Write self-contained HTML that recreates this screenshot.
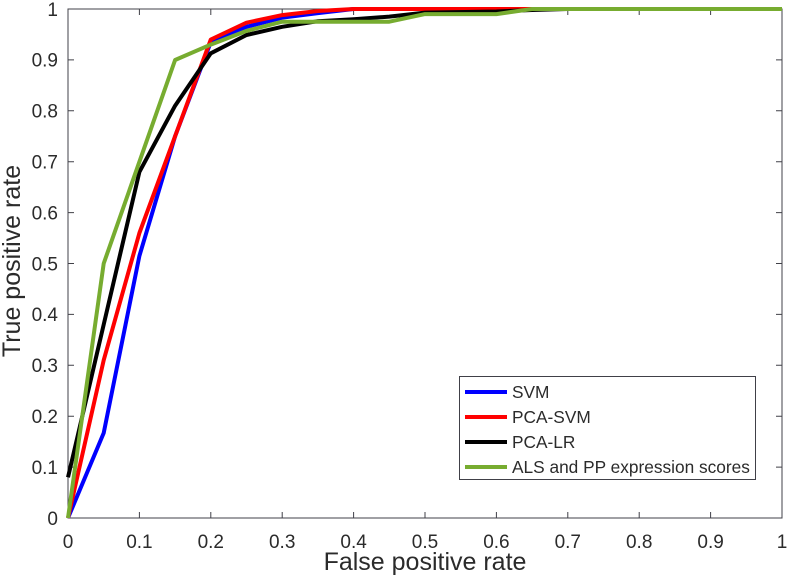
<!DOCTYPE html>
<html><head><meta charset="utf-8"><style>
html,body{margin:0;padding:0;background:#fff;}
svg{display:block;}
text{font-family:"Liberation Sans",Arial,sans-serif;fill:#2b2b2b;}
</style></head><body>
<svg width="787" height="588" viewBox="0 0 787 588" xmlns="http://www.w3.org/2000/svg">
<rect x="0" y="0" width="787" height="588" fill="#fff"/>
<!-- ticks -->
<g stroke="#404048" stroke-width="1" fill="none">
<path d="M139.4 518V512M210.8 518V512M282.2 518V512M353.6 518V512M425 518V512M496.4 518V512M567.8 518V512M639.2 518V512M710.6 518V512"/>
<path d="M139.4 9V15M210.8 9V15M282.2 9V15M353.6 9V15M425 9V15M496.4 9V15M567.8 9V15M639.2 9V15M710.6 9V15"/>
<path d="M68 467.1H74M68 416.2H74M68 365.3H74M68 314.4H74M68 263.5H74M68 212.6H74M68 161.7H74M68 110.8H74M68 59.9H74"/>
<path d="M782 467.1H776M782 416.2H776M782 365.3H776M782 314.4H776M782 263.5H776M782 212.6H776M782 161.7H776M782 110.8H776M782 59.9H776"/>
<rect x="68" y="9" width="714" height="509"/>
</g>
<!-- curves -->
<g fill="none" stroke-width="4" stroke-linejoin="round" stroke-linecap="butt">
<polyline stroke="#0000ff" points="68,518 103.7,433 139.4,255.9 175.1,136.25 210.8,42.1 246.5,26.8 282.2,17.7 317.9,13.1 353.6,9 782,9"/>
<polyline stroke="#ff0000" points="68,518 103.7,360.2 139.4,233 175.1,136.25 210.8,39.5 246.5,22.7 282.2,15.1 317.9,11 353.6,9 782,9"/>
<polyline stroke="#000000" points="68,477.3 103.7,324.6 139.4,171.9 175.1,105.7 210.8,53.3 246.5,35 282.2,26.8 317.9,21.2 353.6,19.2 389.3,16.6 425,12.6 496.4,11.5 532.1,10 567.8,9 782,9"/>
<polyline stroke="#77ac30" points="68,518 103.7,263.5 175.1,60 210.8,44.6 246.5,30.9 282.2,21.7 389.3,21.7 425,14.1 496.4,14.1 532.1,9 782,9"/>
</g>
<!-- tick labels -->
<g font-size="19" text-anchor="middle">
<text x="68" y="548">0</text>
<text x="139.4" y="548">0.1</text>
<text x="210.8" y="548">0.2</text>
<text x="282.2" y="548">0.3</text>
<text x="353.6" y="548">0.4</text>
<text x="425" y="548">0.5</text>
<text x="496.4" y="548">0.6</text>
<text x="567.8" y="548">0.7</text>
<text x="639.2" y="548">0.8</text>
<text x="710.6" y="548">0.9</text>
<text x="782" y="548">1</text>
</g>
<g font-size="19" text-anchor="end">
<text x="58" y="524.8">0</text>
<text x="58" y="473.9">0.1</text>
<text x="58" y="423">0.2</text>
<text x="58" y="372.1">0.3</text>
<text x="58" y="321.2">0.4</text>
<text x="58" y="270.3">0.5</text>
<text x="58" y="219.4">0.6</text>
<text x="58" y="168.5">0.7</text>
<text x="58" y="117.6">0.8</text>
<text x="58" y="66.7">0.9</text>
<text x="58" y="15.8">1</text>
</g>
<!-- axis labels -->
<text x="425" y="570" font-size="25" text-anchor="middle">False positive rate</text>
<text x="0" y="0" font-size="25" text-anchor="middle" transform="translate(20,261) rotate(-90)">True positive rate</text>
<!-- legend -->
<rect x="459.5" y="376.5" width="296" height="103" fill="#fff" stroke="#404048" stroke-width="1"/>
<g stroke-width="4">
<line x1="465" y1="392" x2="507" y2="392" stroke="#0000ff"/>
<line x1="465" y1="417" x2="507" y2="417" stroke="#ff0000"/>
<line x1="465" y1="442" x2="507" y2="442" stroke="#000000"/>
<line x1="465" y1="467" x2="507" y2="467" stroke="#77ac30"/>
</g>
<g font-size="17.3">
<text x="512" y="398">SVM</text>
<text x="512" y="423">PCA-SVM</text>
<text x="512" y="448">PCA-LR</text>
<text x="512" y="473">ALS and PP expression scores</text>
</g>
</svg>
</body></html>
